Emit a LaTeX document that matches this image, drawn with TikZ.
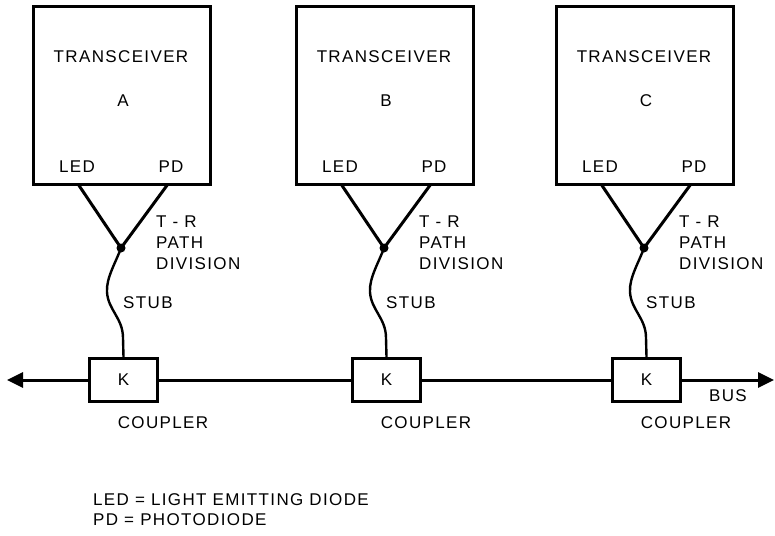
\documentclass[tikz,border=0pt]{standalone}
\usepackage{fontspec}
\setmainfont{Liberation Sans}[LetterSpace=8]
\usetikzlibrary{arrows.meta}
\begin{document}
\begin{tikzpicture}[x=1pt,y=-1pt,
  ln/.style={line width=3pt},
  txt/.style={font=\fontsize{17}{20}\selectfont, inner sep=0pt},
  tbox/.style={ln, draw, minimum width=177pt, minimum height=177pt, inner sep=0pt},
  kbox/.style={ln, draw, minimum width=68pt, minimum height=43pt, inner sep=0pt, font=\fontsize{17}{20}\selectfont},
  dotn/.style={circle, fill, inner sep=0pt, minimum size=9pt},
  tip/.style={-{Triangle[length=16pt,width=15pt]}}
]
\useasboundingbox (0,0) rectangle (775,535);
\foreach \n/\o in {A/0,B/263,C/523}{
  \node[tbox] (box\n) at (121.5+\o,95.5) {};
  \node[txt] (tr\n) at (121+\o,57) {TRANSCEIVER};
  \node[txt] (id\n) at (123+\o,101) {\n};
  \node[txt] (led\n) at (77+\o,167) {LED};
  \node[txt] (pd\n) at (171+\o,167) {PD};
  \coordinate (l\n) at (78+\o,184);
  \coordinate (r\n) at (168+\o,184);
  \node[dotn] (dot\n) at (121+\o,248) {};
  \draw[ln] (l\n) -- (dot\n.center) -- (r\n);
  \node[txt, anchor=west] (t1\n) at (156+\o,222) {T - R};
  \node[txt, anchor=west] (t2\n) at (156+\o,243) {PATH};
  \node[txt, anchor=west] (t3\n) at (156+\o,264) {DIVISION};
  \node[kbox] (k\n) at (123.5+\o,380) {K};
  \draw[line width=2.4pt] (dot\n.center) .. controls (116+\o,262) and (106+\o,278) .. (107+\o,292)
     .. controls (108+\o,310) and (123+\o,318) .. (123+\o,338) -- (k\n.north);
  \node[txt, anchor=west] (st\n) at (123+\o,303) {STUB};
  \node[txt] (cp\n) at (163+\o,423) {COUPLER};
}
\coordinate (busL) at (7,380);
\coordinate (busR) at (774,380);
\draw[ln, tip] (kA.west) -- (busL);
\draw[ln] (kA.east) -- (kB.west);
\draw[ln] (kB.east) -- (kC.west);
\draw[ln, tip] (kC.east) -- (busR);
\node[txt] (bus) at (728,396) {BUS};
\node[txt, anchor=west] (leg1) at (93,500) {LED = LIGHT EMITTING DIODE};
\node[txt, anchor=west] (leg2) at (93,520) {PD = PHOTODIODE};
\end{tikzpicture}
\end{document}
